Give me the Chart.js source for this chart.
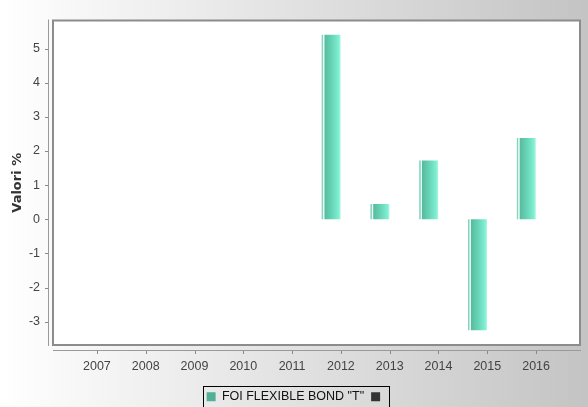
<!DOCTYPE html>
<html><head><meta charset="utf-8">
<script src="https://cdn.jsdelivr.net/npm/chart.js@4"></script>
<style>html,body{margin:0;padding:0;background:#fff}#wrap{width:588px;height:407px;position:relative}canvas{display:block}</style>
</head><body><div id="wrap"><canvas id="c" width="588" height="407"></canvas></div>
<script>
// ---- data ----
const years = ['2007','2008','2009','2010','2011','2012','2013','2014','2015','2016'];
const fundValues = [null, null, null, null, null, 5.4, 0.45, 1.72, -3.25, 2.38];
const otherValues = [null, null, null, null, null, null, null, null, null, null];
const seriesNames = ['FOI FLEXIBLE BOND "T"', ''];
const seriesColors = ['#52b096', '#333333'];
const yTickValues = [-3, -2, -1, 0, 1, 2, 3, 4, 5];
const yMin = -3.68, yMax = 5.82;
const xMin = -0.9, xMax = 9.9;

const CAT_PCT = 0.8, BAR_PCT = 0.97;
const FONT = 'Liberation Sans, Arial, sans-serif';

function barFill(ctx) {
  const base = seriesColors[0];
  if (ctx.type !== 'data') return base;
  const chart = ctx.chart, xs = chart.scales.x;
  if (!xs || !chart.chartArea) return base;
  const unit = xs.getPixelForValue(1) - xs.getPixelForValue(0);
  const slot = unit * CAT_PCT / 2;
  const w = slot * BAR_PCT;
  const c = xs.getPixelForValue(ctx.dataIndex) - unit * CAT_PCT / 2 + slot / 2;
  const l = c - w / 2, r = c + w / 2;
  const g = chart.ctx.createLinearGradient(l, 0, r, 0);
  g.addColorStop(0, '#74cdb5');
  g.addColorStop(0.06, '#8fd9c5');
  g.addColorStop(0.09, '#e6f9f3');
  g.addColorStop(0.13, '#e6f9f3');
  g.addColorStop(0.17, '#58bb9f');
  g.addColorStop(0.55, '#68d6b8');
  g.addColorStop(0.9, '#80f0d2');
  g.addColorStop(1, '#b5f4e2');
  return g;
}

const decor = {
  id: 'decor',
  beforeDraw(chart) {
    const {ctx, width, height, chartArea: a} = chart;
    ctx.save();
    const g = ctx.createLinearGradient(0, 0, width, 0);
    g.addColorStop(0, '#ffffff');
    g.addColorStop(1, '#c4c4c4');
    ctx.fillStyle = g;
    ctx.fillRect(0, 0, width, height);
    ctx.fillStyle = '#ffffff';
    ctx.fillRect(a.left, a.top, a.right - a.left, a.bottom - a.top);
    ctx.restore();
  },
  afterDraw(chart) {
    const {ctx, chartArea: a, scales} = chart;
    ctx.save();
    ctx.strokeStyle = '#8c8c8c';
    ctx.lineWidth = 2;
    ctx.strokeRect(a.left, a.top, a.right - a.left, a.bottom - a.top);
    ctx.strokeStyle = '#9a9a9a';
    ctx.lineWidth = 1;
    ctx.beginPath();
    ctx.moveTo(a.left - 4.5, a.top - 1);
    ctx.lineTo(a.left - 4.5, a.bottom + 1);
    ctx.moveTo(a.left, a.bottom + 5.5);
    ctx.lineTo(a.right + 1, a.bottom + 5.5);
    ctx.stroke();
    ctx.strokeStyle = '#888';
    ctx.beginPath();
    scales.y.ticks.forEach((t, i) => {
      const y = Math.round(scales.y.getPixelForTick(i)) + 0.5;
      ctx.moveTo(a.left - 8, y);
      ctx.lineTo(a.left - 5, y);
    });
    scales.x.ticks.forEach((t, i) => {
      const x = Math.round(scales.x.getPixelForTick(i)) + 0.5;
      ctx.moveTo(x, a.bottom + 6);
      ctx.lineTo(x, a.bottom + 9);
    });
    ctx.stroke();
    const hb = chart.legend && chart.legend.legendHitBoxes;
    if (hb && hb.length) {
      const first = hb[0], last = hb[hb.length - 1];
      const l = Math.round(first.left) - 3.5;
      const r = Math.round(last.left + last.width) + 3.5;
      const t = Math.round(first.top) - 4.5;
      ctx.strokeStyle = '#000';
      ctx.lineWidth = 1;
      ctx.strokeRect(l, t, r - l, 40);
    }
    ctx.restore();
  }
};

new Chart(document.getElementById('c'), {
  type: 'bar',
  data: {
    datasets: [
      {
        label: seriesNames[0],
        data: years.map((y, i) => ({x: i, y: fundValues[i]})),
        backgroundColor: barFill,
        borderWidth: 0,
        categoryPercentage: CAT_PCT,
        barPercentage: BAR_PCT
      },
      {
        label: seriesNames[1],
        data: years.map((y, i) => ({x: i, y: otherValues[i]})),
        backgroundColor: seriesColors[1],
        borderWidth: 0,
        categoryPercentage: CAT_PCT,
        barPercentage: BAR_PCT
      }
    ]
  },
  options: {
    responsive: false,
    animation: false,
    devicePixelRatio: 1,
    layout: {padding: {top: 20, right: 8, left: 13, bottom: -6}},
    plugins: {
      tooltip: {enabled: false},
      legend: {
        position: 'bottom',
        labels: {
          boxWidth: 9, boxHeight: 9, padding: 7,
          color: '#111',
          font: {family: FONT, size: 12.5},
          generateLabels: chart => Chart.defaults.plugins.legend.labels.generateLabels(chart)
            .map((it, i) => Object.assign(it, {fillStyle: seriesColors[i], strokeStyle: seriesColors[i], lineWidth: 0}))
        }
      }
    },
    scales: {
      x: {
        type: 'linear',
        offset: false,
        min: xMin, max: xMax,
        grid: {display: false, drawTicks: false},
        border: {display: false},
        afterBuildTicks: s => { s.ticks = years.map((y, i) => ({value: i})); },
        afterFit: s => { s.height = 38.5; },
        ticks: {
          autoSkip: false, maxRotation: 0, padding: 14,
          color: '#444',
          font: {family: FONT, size: 12.5},
          callback: v => years[v] !== undefined ? years[v] : ''
        }
      },
      y: {
        min: yMin, max: yMax,
        grid: {display: false, drawTicks: false},
        border: {display: false},
        afterBuildTicks: s => { s.ticks = yTickValues.map(v => ({value: v})); },
        afterFit: s => { s.width = 40; },
        ticks: {
          padding: 13,
          color: '#444',
          font: {family: FONT, size: 12.5}
        },
        title: {
          display: true,
          text: 'Valori %',
          color: '#333',
          font: {family: 'DejaVu Sans, sans-serif', size: 13, weight: 'bold'},
          padding: {top: -3, bottom: 0}
        }
      }
    }
  },
  plugins: [decor]
});
</script>
</body></html>
